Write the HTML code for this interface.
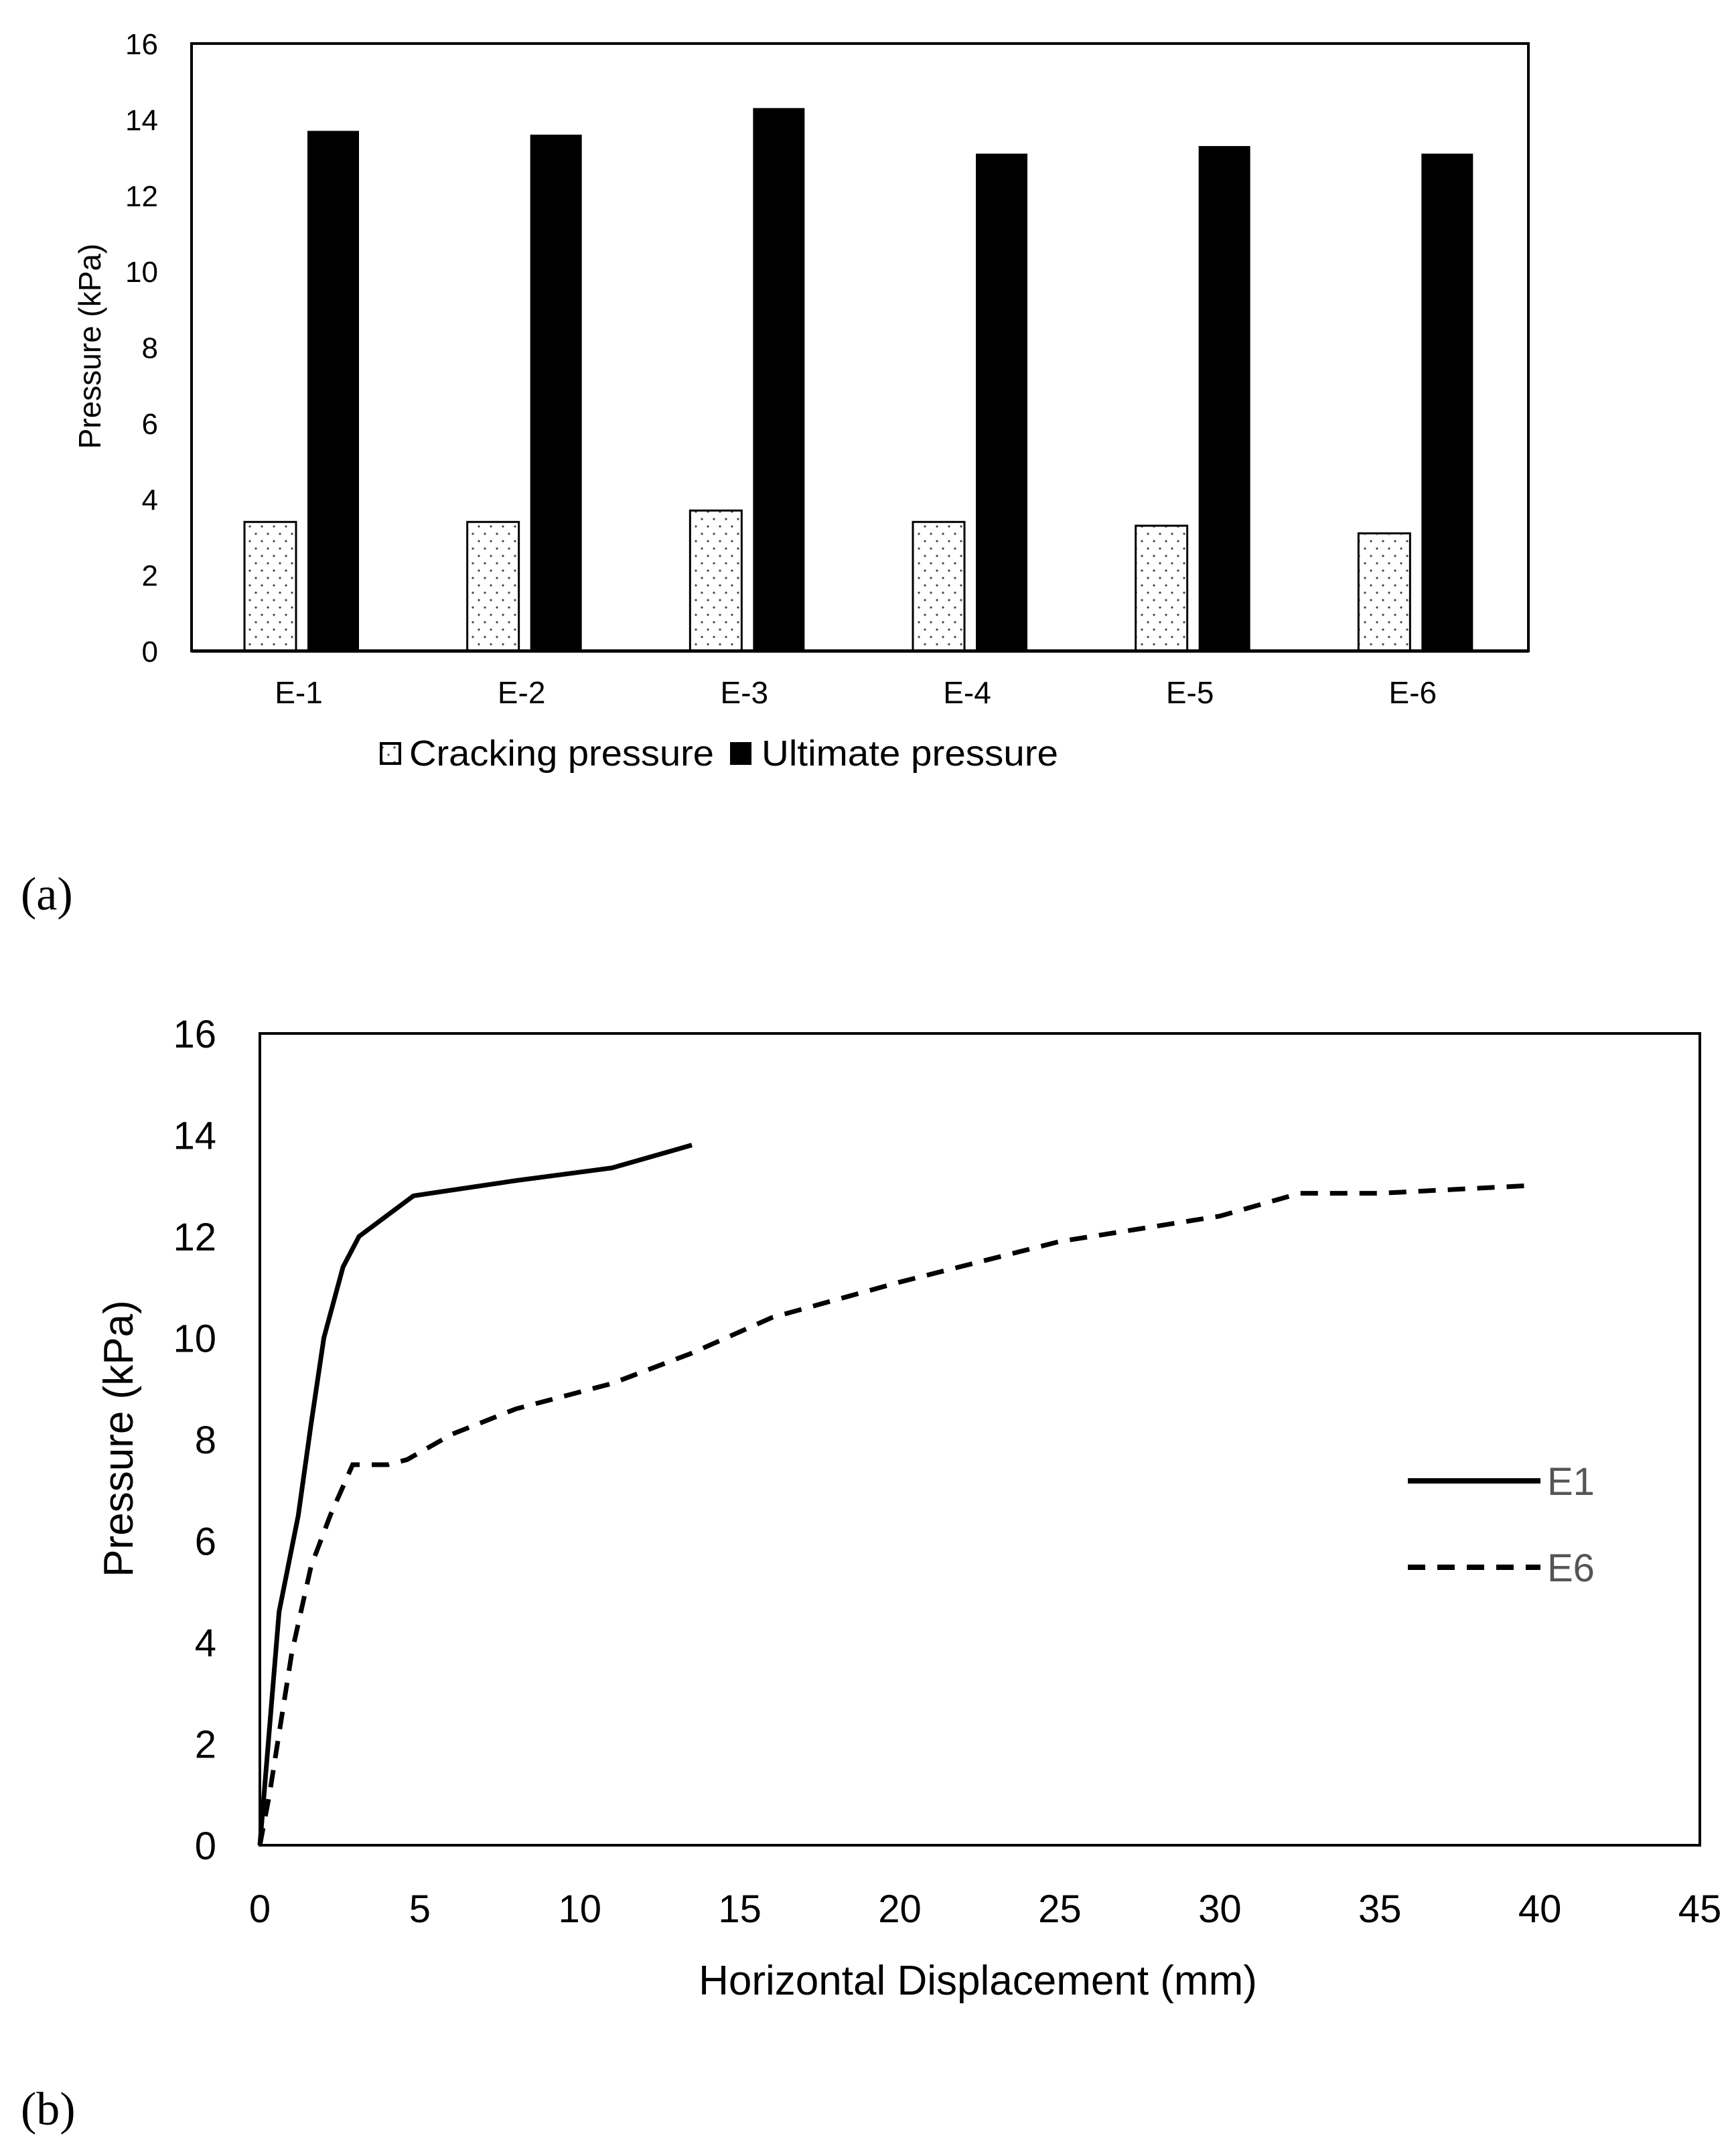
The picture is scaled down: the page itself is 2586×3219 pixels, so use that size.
<!DOCTYPE html>
<html><head><meta charset="utf-8"><style>
html,body{margin:0;padding:0;background:#fff;}
svg{display:block;}
text{font-family:"Liberation Sans",sans-serif;}
</style></head>
<body>
<svg id="fig" width="2586" height="3219" viewBox="0 0 2586 3219">
<defs>
<pattern id="dots" width="18" height="22" patternUnits="userSpaceOnUse">
<rect width="18" height="22" fill="#fff"/>
<circle cx="4" cy="5" r="1.6" fill="#444"/>
<circle cx="13" cy="16" r="1.6" fill="#444"/>
</pattern>
</defs>
<g id="chartA"></g>
<g id="chartB"></g>
<text x="31" y="1358" style="font-family:'Liberation Serif',serif" font-size="70">(a)</text>
<text x="31" y="3172" style="font-family:'Liberation Serif',serif" font-size="70">(b)</text>
</svg>
<script>
const categories = ["E-1","E-2","E-3","E-4","E-5","E-6"];
const crackingValues = [3.4,3.4,3.7,3.4,3.3,3.1];
const ultimateValues = [13.7,13.6,14.3,13.1,13.3,13.1];
const yTicksA = [0,2,4,6,8,10,12,14,16];

const e1X = [0,0.6,1.2,1.6,2,2.6,3.1,4.8,8,11,13.5];
const e1Y = [0,4.6,6.5,8.3,10,11.4,12,12.8,13.1,13.35,13.8];
const e6X = [0,0.3,0.6,1,1.6,2.2,2.9,4,4.6,6,8,11,13.5,16,20,25,30,32.5,35,39.6];
const e6Y = [0,1,2.2,3.8,5.5,6.5,7.5,7.5,7.6,8.1,8.6,9.1,9.7,10.4,11.1,11.9,12.4,12.85,12.85,13];
const xTicksB = [0,5,10,15,20,25,30,35,40,45];
const yTicksB = [0,2,4,6,8,10,12,14,16];

const NS = "http://www.w3.org/2000/svg";
function mk(parent, tag, attrs, txt){
  const el = document.createElementNS(NS, tag);
  for (const k in attrs) el.setAttribute(k, attrs[k]);
  if (txt !== undefined) el.textContent = txt;
  parent.appendChild(el);
  return el;
}

(function(){
  const g = document.getElementById('chartA');
  const L=286, R=2282, T=65, B=972;
  const y = v => B - (v/16)*(B-T);
  const band = (R-L)/categories.length;
  const bx = i => L + i*band;
  const frame = mk(g,'rect',{x:L,y:T,width:R-L,height:B-T,fill:'none',stroke:'#000','stroke-width':4});
  
  
  yTicksA.forEach(t=>{
    const el = mk(g,'text',{x:236,y:y(t)+16,'text-anchor':'end','font-size':44,fill:'#000'},t);
    
    
  });
  categories.forEach((c,i)=>{
    const c1 = mk(g,'rect',{x:bx(i)+79,y:y(crackingValues[i]),width:77,height:B-y(crackingValues[i]),fill:'url(#dots)',stroke:'#000','stroke-width':3});
    
    
    const u1 = mk(g,'rect',{x:bx(i)+173,y:y(ultimateValues[i]),width:77,height:B-y(ultimateValues[i]),fill:'#000'});
    
    
    const lab = mk(g,'text',{x:bx(i)+160,y:1050,'text-anchor':'middle','font-size':46,fill:'#000'},c);
    
    
  });
  const ax = mk(g,'line',{x1:L,x2:R,y1:B,y2:B,stroke:'#000','stroke-width':5});
  
  
  const yt = mk(g,'text',{x:0,y:0,transform:'translate(150,517) rotate(-90)','text-anchor':'middle','font-size':46,fill:'#000'},'Pressure (kPa)');
  
  
  const lg1 = mk(g,'rect',{x:569,y:1110,width:28,height:30,fill:'url(#dots)',stroke:'#000','stroke-width':4});
  
  
  const lt1 = mk(g,'text',{x:611,y:1143,'font-size':54,textLength:455,lengthAdjust:'spacingAndGlyphs',fill:'#000'},'Cracking pressure');
  
  
  const lg2 = mk(g,'rect',{x:1090,y:1108,width:32,height:34,fill:'#000'});
  
  
  const lt2 = mk(g,'text',{x:1137,y:1143,'font-size':54,textLength:443,lengthAdjust:'spacingAndGlyphs',fill:'#000'},'Ultimate pressure');
  
  
})();

(function(){
  const g = document.getElementById('chartB');
  const L=388, R=2538, T=1543, B=2755;
  const x = v => L + (v/45)*(R-L);
  const y = v => B - (v/16)*(B-T);
  const frame = mk(g,'rect',{x:L,y:T,width:R-L,height:B-T,fill:'none',stroke:'#000','stroke-width':4});
  
  
  yTicksB.forEach(t=>{
    const el = mk(g,'text',{x:323,y:y(t)+21,'text-anchor':'end','font-size':58,fill:'#000'},t);
    
    
  });
  xTicksB.forEach(t=>{
    const el = mk(g,'text',{x:x(t),y:2870,'text-anchor':'middle','font-size':58,fill:'#000'},t);
    
    
  });
  const p1 = mk(g,'polyline',{points:e1X.map((v,i)=>x(v)+','+y(e1Y[i])).join(' '),fill:'none',stroke:'#000','stroke-width':7,'stroke-linejoin':'round'});
  
  
  const p6 = mk(g,'polyline',{points:e6X.map((v,i)=>x(v)+','+y(e6Y[i])).join(' '),fill:'none',stroke:'#000','stroke-width':7,'stroke-dasharray':'26 18'});
  
  
  const xt = mk(g,'text',{x:1460,y:2978,'text-anchor':'middle','font-size':62,fill:'#000'},'Horizontal Displacement (mm)');
  
  
  const yt = mk(g,'text',{x:0,y:0,transform:'translate(198,2148) rotate(-90)','text-anchor':'middle','font-size':62,fill:'#000'},'Pressure  (kPa)');
  
  
  const l1 = mk(g,'line',{x1:2102,x2:2300,y1:2211,y2:2211,stroke:'#000','stroke-width':8});
  
  
  const t1 = mk(g,'text',{x:2310,y:2232,'font-size':58,fill:'#555'},'E1');
  
  
  const l6 = mk(g,'line',{x1:2102,x2:2300,y1:2340,y2:2340,stroke:'#000','stroke-width':8,'stroke-dasharray':'26 18'});
  
  
  const t6 = mk(g,'text',{x:2310,y:2361,'font-size':58,fill:'#555'},'E6');
  
  
})();
</script>
</body></html>
